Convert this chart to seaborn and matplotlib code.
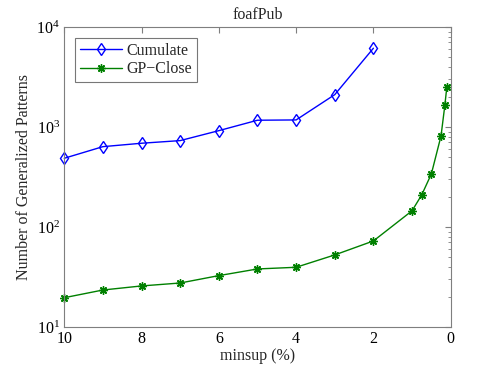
import matplotlib
matplotlib.use("Agg")
import matplotlib.pyplot as plt
import seaborn as sns
import pandas as pd

# data
cum_minsup = [10, 9, 8, 7, 6, 5, 4, 3, 2]
cum_patterns = [486, 635, 687, 730, 918, 1167, 1175, 2104, 6124]

gp_minsup = [10, 9, 8, 7, 6, 5, 4, 3, 2, 1, 0.75, 0.5, 0.25, 0.15, 0.1]
gp_patterns = [19.6, 23.4, 25.7, 27.5, 32.6, 38, 39.5, 52.5, 72.4,
               145, 209, 339, 813, 1660, 2512]

sns.set_style("white")
plt.rcParams["font.family"] = ["Liberation Serif", "DejaVu Serif"]
plt.rcParams["mathtext.fontset"] = "custom"
plt.rcParams["mathtext.rm"] = "Liberation Serif"
plt.rcParams["font.size"] = 11.5

cum = pd.DataFrame({"minsup": cum_minsup, "patterns": cum_patterns})
gp = pd.DataFrame({"minsup": gp_minsup, "patterns": gp_patterns})

fig = plt.figure(figsize=(4.98, 3.69), dpi=100)
ax = fig.add_axes([0.129, 0.114, 0.776, 0.813])

sns.lineplot(
    data=cum, x="minsup", y="patterns", ax=ax,
    color="#0000ff", marker="d", markersize=6.5,
    markerfacecolor="none", markeredgecolor="#0000ff", markeredgewidth=1,
    linewidth=1, label="Cumulate", clip_on=False
)
sns.lineplot(
    data=gp, x="minsup", y="patterns", ax=ax,
    color="#008000", marker=(8, 2, 0), markersize=6,
    markeredgecolor="#008000", markeredgewidth=1,
    linewidth=1, label="GP\u2212Close", clip_on=False
)

ax.set_yscale("log")
ax.set_ylim(10, 1e4)
ax.set_xlim(10, 0)
ax.set_xticks([10, 8, 6, 4, 2, 0])

ax.set_title("foafPub", fontsize=11.5, pad=6)
ax.set_xlabel("minsup (%)", fontsize=11.5, labelpad=1)
ax.set_ylabel("Number of Generalized Patterns", fontsize=11.5, labelpad=3)

for s in ax.spines.values():
    s.set_color("#7f7f7f")
    s.set_linewidth(0.8)
ax.tick_params(which="both", direction="in", top=True, right=True,
               color="#7f7f7f", labelcolor="black", labelsize=11.5, pad=3)
ax.tick_params(which="major", length=4)
ax.tick_params(which="minor", length=2)

leg = ax.legend(loc="upper left", fontsize=11.5, frameon=True, fancybox=False,
                borderaxespad=0.7, handlelength=2.6, handletextpad=0.3,
                borderpad=0.3, labelspacing=0.15)
leg.get_frame().set_edgecolor("#555555")
leg.get_frame().set_linewidth(0.8)

fig.savefig("out.png", dpi=100)
